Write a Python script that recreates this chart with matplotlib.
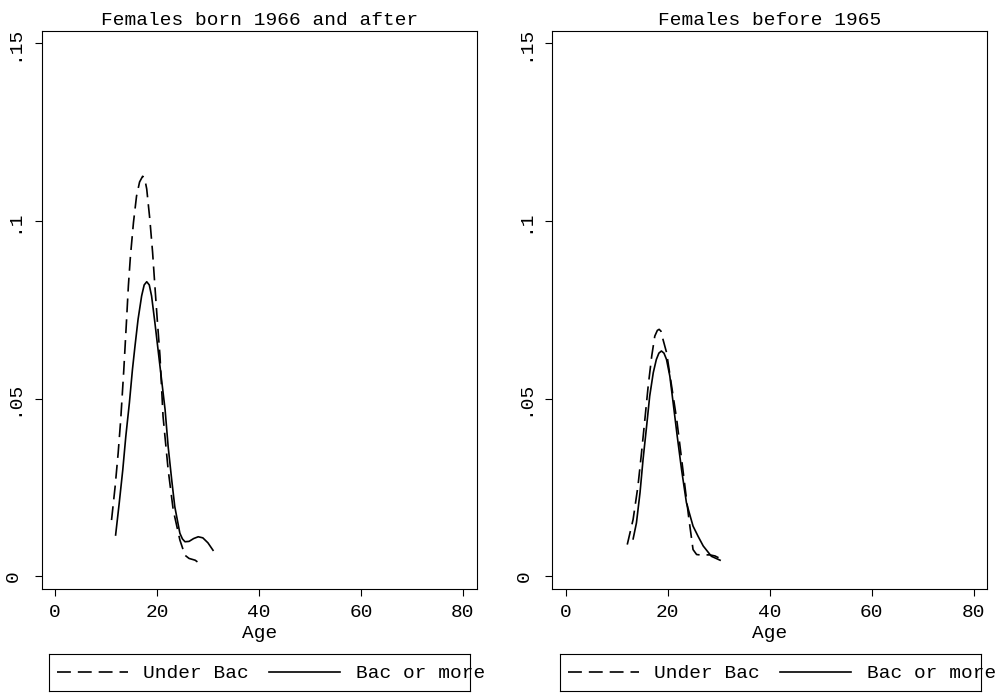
import numpy as np
import matplotlib
matplotlib.use("Agg")
import matplotlib.pyplot as plt

plt.rcParams['font.family'] = ['Liberation Mono', 'DejaVu Sans Mono']
plt.rcParams['font.size'] = 14
plt.rcParams['lines.scale_dashes'] = False

# density of age at first birth
titles = ["Females born 1966 and after", "Females before 1965"]
series_names = ["Under Bac", "Bac or more"]

young_under_age = [11.1, 11.8, 12.4, 12.9, 13.5, 14.05, 14.4, 14.8, 15.4, 16.0, 16.6, 17.2, 17.6,
                   18.0, 18.6, 19.15, 19.6, 20.06, 20.6, 21.2, 22.2, 23.2, 24.5, 25.5, 26.3, 27.5, 28.8]
young_under_dens = [0.0158, 0.0252, 0.0347, 0.0441, 0.0580, 0.0723, 0.0817, 0.0900, 0.0996, 0.1070,
                    0.1110, 0.1126, 0.1120, 0.1090, 0.1006, 0.0912, 0.0817, 0.0723, 0.0620, 0.0450,
                    0.0300, 0.0186, 0.0102, 0.0059, 0.0050, 0.0045, 0.0031]

young_bac_age = [11.9, 12.6, 13.3, 13.9, 14.6, 15.2, 15.7, 16.3, 17.0, 17.5, 18.0, 18.5, 18.95, 19.6,
                 20.6, 21.6, 22.2, 22.9, 23.5, 24.5, 25.0, 25.5, 26.3, 27.2, 28.1, 29.0, 30.0, 31.0]
young_bac_dens = [0.0116, 0.0205, 0.0299, 0.0394, 0.0488, 0.0582, 0.0648, 0.0723, 0.0789, 0.0820,
                  0.0829, 0.0820, 0.0789, 0.0714, 0.0591, 0.0469, 0.0365, 0.0271, 0.0196, 0.0121,
                  0.0105, 0.0097, 0.0098, 0.0106, 0.0111, 0.0108, 0.0094, 0.0073]

old_under_age = [12.1, 13.25, 14.2, 14.9, 15.55, 16.2, 16.9, 17.5, 18.0, 18.35, 18.7, 19.1, 19.8,
                 20.8, 21.8, 22.6, 23.4, 24.2, 25.0, 25.7, 26.3, 27.3, 28.3, 29.3, 30.0]
old_under_dens = [0.0089, 0.0160, 0.0254, 0.0348, 0.0441, 0.0535, 0.0620, 0.0676, 0.0692, 0.0695,
                  0.0690, 0.0667, 0.0630, 0.0535, 0.0441, 0.0348, 0.0254, 0.0160, 0.0075, 0.0061,
                  0.0060, 0.0060, 0.0060, 0.0057, 0.0052]

old_bac_age = [13.25, 13.9, 14.6, 15.2, 15.9, 16.5, 17.2, 17.8, 18.3, 18.8, 19.3, 19.8, 20.45,
               21.1, 21.9, 22.75, 23.7, 25.0, 26.0, 27.0, 28.6, 30.3]
old_bac_dens = [0.0105, 0.0150, 0.0235, 0.0329, 0.0423, 0.0507, 0.0573, 0.0610, 0.0628, 0.0634,
                0.0628, 0.0610, 0.0563, 0.0488, 0.0394, 0.0300, 0.0207, 0.0141, 0.0112, 0.0085,
                0.0056, 0.0045]

xticks = [0, 20, 40, 60, 80]
yticks = [0, 0.05, 0.1, 0.15]
ytick_labels = ["0", ".05", ".1", ".15"]

panels = [
    (young_under_age, young_under_dens, young_bac_age, young_bac_dens),
    (old_under_age, old_under_dens, old_bac_age, old_bac_dens),
]

fig = plt.figure(figsize=(10.02, 6.93), dpi=100)
lefts = [0.0416, 0.5512]
dash = (0, (10, 5))

for i, (ua, ud, ba, bd) in enumerate(panels):
    ax = fig.add_axes([lefts[i], 0.1501, 0.4341, 0.8052])
    ax.plot(ua, ud, color='black', lw=1.2, linestyle=dash)
    ax.plot(ba, bd, color='black', lw=1.2)
    ax.set_xlim(-2.6, 82.7)
    ax.set_ylim(-0.0036, 0.1535)
    ax.set_xticks(xticks)
    ax.set_yticks(yticks)
    ax.set_yticklabels(ytick_labels, rotation=90, va='center')
    ax.tick_params(direction='out', length=5, width=0.8, color='black')
    ax.tick_params(axis='x', pad=6)
    ax.tick_params(axis='y', pad=9)
    for s in ax.spines.values():
        s.set_linewidth(0.8)
    ax.set_xlabel("Age", labelpad=3)
    ax.set_title(titles[i], pad=4, fontsize=14)

    # legend box below each panel
    lg = fig.add_axes([lefts[i] + 0.0073, 0.003, 0.4204, 0.0534])
    lg.set_xlim(0, 1)
    lg.set_ylim(0, 1)
    lg.set_xticks([])
    lg.set_yticks([])
    for s in lg.spines.values():
        s.set_linewidth(0.8)
    lg.plot([0.019, 0.188], [0.5, 0.5], color='black', lw=1.2, linestyle=dash)
    lg.text(0.223, 0.46, series_names[0], va='center', ha='left')
    lg.plot([0.523, 0.691], [0.5, 0.5], color='black', lw=1.2)
    lg.text(0.729, 0.46, series_names[1], va='center', ha='left', clip_on=False)

fig.savefig("out.png", dpi=100)
